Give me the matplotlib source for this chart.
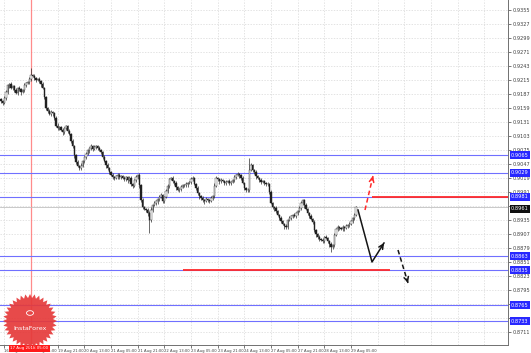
# hourly candles with support / resistance levels and forecast arrows
import matplotlib
matplotlib.use("Agg")
import matplotlib.pyplot as plt
import numpy as np
from matplotlib.patches import Polygon, Circle

closes = [
    0.9173, 0.9169, 0.9179, 0.9191, 0.9205, 0.9207, 0.9199, 0.9203, 0.9195, 0.9189,
    0.9199, 0.9197, 0.9191, 0.9195, 0.9205, 0.9209, 0.9211, 0.9217, 0.9225, 0.9223,
    0.9219, 0.9215, 0.9217, 0.9213, 0.9207, 0.9199, 0.9181, 0.9159, 0.9153, 0.9147,
    0.9151, 0.9149, 0.9139, 0.9123, 0.9119, 0.9121, 0.9115, 0.9111, 0.9119, 0.9123,
    0.9113, 0.9107, 0.9093, 0.9083, 0.9065, 0.9051, 0.9043, 0.9039, 0.9043, 0.9053,
    0.9061, 0.9067, 0.9075, 0.9079, 0.9083, 0.9077, 0.9081, 0.9083, 0.9079, 0.9075,
    0.9071, 0.9061, 0.9053, 0.9045, 0.9039, 0.9031, 0.9025, 0.9021, 0.9019, 0.9023,
    0.9025, 0.9021, 0.9023, 0.9019, 0.9017, 0.9021, 0.9015, 0.9019, 0.9007, 0.9003,
    0.9015, 0.9021, 0.9025, 0.9005, 0.8975, 0.8961, 0.8957, 0.8955, 0.8949, 0.8935,
    0.8955, 0.8965, 0.8969, 0.8973, 0.8977, 0.8981, 0.8985, 0.8973, 0.8981, 0.8993,
    0.9003, 0.9017, 0.9019, 0.9013, 0.9009, 0.9001, 0.8995, 0.8997, 0.9001, 0.9005,
    0.9005, 0.9007, 0.9009, 0.9011, 0.9017, 0.9019, 0.9007, 0.8999, 0.8989, 0.8983,
    0.8979, 0.8975, 0.8973, 0.8977, 0.8975, 0.8973, 0.8979, 0.8983, 0.9003, 0.9019,
    0.9017, 0.9013, 0.9015, 0.9013, 0.9009, 0.9011, 0.9013, 0.9009, 0.9011, 0.9015,
    0.9021, 0.9025, 0.9027, 0.9025, 0.9019, 0.9009, 0.8999, 0.8995, 0.8995, 0.9035,
    0.9045, 0.9035, 0.9031, 0.9023, 0.9019, 0.9015, 0.9011, 0.9013, 0.9009, 0.9007,
    0.9007, 0.8991, 0.8969, 0.8961, 0.8959, 0.8953, 0.8945, 0.8939, 0.8933, 0.8927,
    0.8923, 0.8921, 0.8935, 0.8939, 0.8943, 0.8945, 0.8943, 0.8949, 0.8953, 0.8959,
    0.8969, 0.8975, 0.8965, 0.8957, 0.8949, 0.8943, 0.8937, 0.8931, 0.8915, 0.8907,
    0.8901, 0.8897, 0.8895, 0.8893, 0.8901, 0.8899, 0.8893, 0.8887, 0.8881, 0.8885,
    0.8905, 0.8917, 0.8921, 0.8919, 0.8917, 0.8921, 0.8919, 0.8923, 0.8925, 0.8927,
    0.8933, 0.8939, 0.8945, 0.8961,
]
first_open = 0.9177

# wick lengths in pips
wick_up = [
    3, 2, 4, 5, 2, 3, 4, 2, 3, 5, 2, 4, 3, 2, 4, 3, 2, 5, 14, 3,
    4, 2, 3, 5, 2, 4, 3, 2, 3, 4, 5, 2, 3, 4, 6, 2, 3, 4, 2, 3,
    2, 4, 3, 5, 2, 3, 4, 2, 6, 3, 2, 4, 3, 2, 5, 3, 4, 2, 3, 4,
    3, 2, 4, 3, 5, 2, 3, 4, 2, 3, 4, 5, 2, 3, 4, 2, 3, 5, 4, 2,
    3, 4, 2, 5, 3, 4, 2, 3, 4, 5, 6, 3, 4, 2, 3, 5, 4, 3, 2, 4,
    5, 3, 2, 4, 3, 4, 2, 3, 5, 2, 3, 4, 2, 3, 5, 4, 3, 2, 4, 3,
    2, 4, 3, 5, 2, 3, 4, 3, 6, 4, 3, 2, 4, 3, 2, 5, 3, 4, 2, 3,
    4, 3, 5, 2, 3, 4, 2, 3, 4, 24, 5, 3, 2, 4, 3, 2, 4, 3, 2, 3,
    4, 3, 5, 2, 3, 4, 2, 3, 4, 3, 2, 5, 3, 4, 2, 3, 4, 2, 3, 5,
    4, 3, 2, 4, 3, 2, 5, 3, 4, 2, 3, 4, 2, 5, 3, 4, 2, 3, 4, 3,
    5, 3, 4, 2, 3, 4, 2, 5, 3, 4, 2, 3, 4, 3,
]
wick_dn = [
    4, 3, 2, 4, 3, 5, 2, 3, 4, 2, 3, 4, 5, 2, 3, 4, 2, 3, 4, 2,
    3, 4, 2, 3, 5, 2, 4, 3, 4, 2, 3, 5, 4, 2, 3, 4, 2, 5, 3, 4,
    3, 2, 4, 3, 5, 4, 2, 3, 4, 2, 3, 4, 2, 5, 3, 4, 2, 3, 4, 2,
    4, 3, 2, 5, 3, 4, 2, 3, 4, 2, 5, 3, 4, 2, 3, 4, 5, 2, 3, 4,
    2, 3, 4, 5, 4, 3, 2, 4, 5, 26, 3, 4, 2, 3, 5, 4, 2, 3, 4, 2,
    3, 4, 2, 3, 4, 5, 2, 3, 4, 2, 3, 4, 5, 2, 3, 4, 2, 3, 4, 5,
    4, 3, 5, 2, 3, 4, 2, 3, 4, 2, 3, 5, 4, 2, 3, 4, 2, 3, 4, 2,
    3, 4, 2, 5, 3, 2, 4, 3, 4, 3, 2, 4, 3, 5, 2, 3, 4, 2, 3, 4,
    3, 4, 2, 3, 5, 4, 2, 3, 4, 2, 6, 3, 4, 2, 3, 4, 2, 3, 4, 2,
    3, 4, 5, 2, 3, 4, 2, 3, 4, 5, 3, 4, 2, 3, 4, 2, 3, 5, 10, 3,
    4, 2, 3, 4, 2, 3, 5, 2, 3, 4, 2, 3, 4, 2,
]

time_labels = ["16 Aug 13:00", "17 Aug 05:00", "19 Aug 21:00", "20 Aug 13:00",
               "21 Aug 05:00", "21 Aug 21:00", "22 Aug 13:00", "23 Aug 05:00",
               "23 Aug 21:00", "24 Aug 13:00", "27 Aug 05:00", "27 Aug 21:00",
               "28 Aug 13:00", "29 Aug 05:00"]
cursor_label = "17 Aug 2018 05:00"

blue_levels = [0.9065, 0.9029, 0.8981, 0.8863, 0.8835, 0.8765, 0.8733]
red_up_level = 0.8981
red_dn_level = 0.8835
current_price = 0.8961
price_ticks = [round(0.9355 - 0.0028 * i, 4) for i in range(24)]

# forecast paths: (bar, price)
red_dashed = [(218.4, 0.8955), (223.2, 0.9023)]
black_solid = [(214.2, 0.8955), (222.6, 0.8851), (229.8, 0.8889)]
black_dashed = [(238.2, 0.8875), (244.2, 0.8809)]

W, H = 531, 353
fig = plt.figure(figsize=(W / 100, H / 100), dpi=100)
fig.patch.set_facecolor("white")
ax = fig.add_axes([0, 8 / H, 508 / W, 345 / H])

n = len(closes)
x = np.arange(n)
c = np.array(closes)
o = np.array([first_open] + closes[:-1])
hi = np.maximum(o, c) + np.array(wick_up) * 0.0001
lo = np.minimum(o, c) - np.array(wick_dn) * 0.0001

# grid
for i in range(len(time_labels) + 6):
    if i == 1:
        continue
    ax.axvline(2 + 16 * i, color="#d8d8d8", lw=0.5, ls=(0, (2, 2)), zorder=0)
for p in price_ticks:
    ax.axhline(p, color="#d8d8d8", lw=0.5, ls=(0, (2, 2)), zorder=0)

# levels
ax.axvline(18, color="#ff6e6e", lw=0.9, alpha=0.8, zorder=0.5)
for lv in blue_levels:
    ax.axhline(lv, color="#7070ff", lw=0.8, zorder=1)
ax.axhline(current_price, color="#c0c0c0", lw=0.6, zorder=1)
ax.hlines(red_up_level, 222.6, 305, color="#ff2a2a", lw=1.3, zorder=2)
ax.hlines(red_dn_level, 109.2, 233.4, color="#ff2a2a", lw=1.3, zorder=2)

# candles
ax.vlines(x, lo, hi, color="#303030", lw=0.5, zorder=3)
bull = c >= o
ax.bar(x[bull], (c - o)[bull], bottom=o[bull], width=0.7, color="white",
       edgecolor="#303030", linewidth=0.3, zorder=4)
ax.bar(x[~bull], (o - c)[~bull], bottom=c[~bull], width=0.7, color="#202020",
       edgecolor="#202020", linewidth=0.3, zorder=4)

# forecast arrows: shaft drawn with its own style, open head at the tip
def arrow(path, color, ls):
    xs, ys = zip(*path)
    ax.plot(xs, ys, color=color, lw=1.1, ls=ls, zorder=5)
    (x0, y0), (x1, y1) = path[-2], path[-1]
    tail = (x1 - 0.12 * (x1 - x0), y1 - 0.12 * (y1 - y0))
    ax.annotate("", xy=path[-1], xytext=tail,
                arrowprops=dict(arrowstyle="->", color=color, lw=1.1,
                                mutation_scale=8, shrinkA=0, shrinkB=0),
                zorder=5)

arrow(red_dashed, "#ff2a2a", (0, (3, 2)))
arrow(black_solid, "#151515", "-")
arrow(black_dashed, "#151515", (0, (3, 2)))

ax.set_xlim(-0.6, 304.2)
ax.set_ylim(0.8685, 0.9375)

for s in ["top", "left"]:
    ax.spines[s].set_visible(False)
for s in ["right", "bottom"]:
    ax.spines[s].set_color("#707070")
    ax.spines[s].set_linewidth(0.7)

# tick labels hidden where a price tag covers them
tagged = blue_levels + [current_price]
ax.yaxis.tick_right()
ax.set_yticks(price_ticks)
ax.set_yticklabels(["" if min(abs(p - t) for t in tagged) < 0.0009 else f"{p:.4f}"
                    for p in price_ticks])
ax.tick_params(axis="y", length=2, width=0.5, pad=1.5, labelsize=3.6,
               colors="#404040")
ax.set_xticks([2 + 16 * i for i in range(len(time_labels))])
ax.set_xticklabels(time_labels)
for t in ax.get_xticklabels():
    t.set_horizontalalignment("left")
ax.tick_params(axis="x", length=2, width=0.5, pad=1, labelsize=2.7,
               colors="#404040")

# price tags on the axis
yt = ax.get_yaxis_transform()
for lv in blue_levels:
    ax.text(1.006, lv, f"{lv:.4f}", transform=yt, fontsize=3.6, color="white",
            va="center", ha="left", clip_on=False, zorder=10,
            bbox=dict(boxstyle="square,pad=0.25", fc="#2828ff", ec="none"))
ax.text(1.006, current_price - 0.0004, f"{current_price:.4f}", transform=yt,
        fontsize=3.6, color="white", va="center", ha="left", clip_on=False,
        zorder=11, bbox=dict(boxstyle="square,pad=0.25", fc="#101010", ec="none"))

xt = ax.get_xaxis_transform()
ax.text(17, -0.004, cursor_label, transform=xt, fontsize=2.9, color="white",
        va="top", ha="center", clip_on=False, zorder=12,
        bbox=dict(boxstyle="square,pad=0.35", fc="#ff1a1a", ec="none"))

# logo badge
cx, cy, r1, r2, teeth = 30, 321, 27, 23, 36
ang = np.linspace(0, 2 * np.pi, 2 * teeth, endpoint=False)
rad = np.where(np.arange(2 * teeth) % 2 == 0, r1, r2)
pts = np.column_stack([(cx + rad * np.cos(ang)) / W, 1 - (cy + rad * np.sin(ang)) / H])
fig.patches.append(Polygon(pts, closed=True, transform=fig.transFigure,
                           fc="#e53a3a", ec="none", alpha=0.92, zorder=20))
fig.patches.append(Circle((cx / W, 1 - 313 / H), 3.5 / W, transform=fig.transFigure,
                          fc="none", ec="white", lw=0.6, zorder=21))
fig.text(cx / W, 1 - 328 / H, "InstaForex", color="white", fontsize=4.6,
         ha="center", va="center", zorder=22)

fig.savefig("out.png", dpi=100)
